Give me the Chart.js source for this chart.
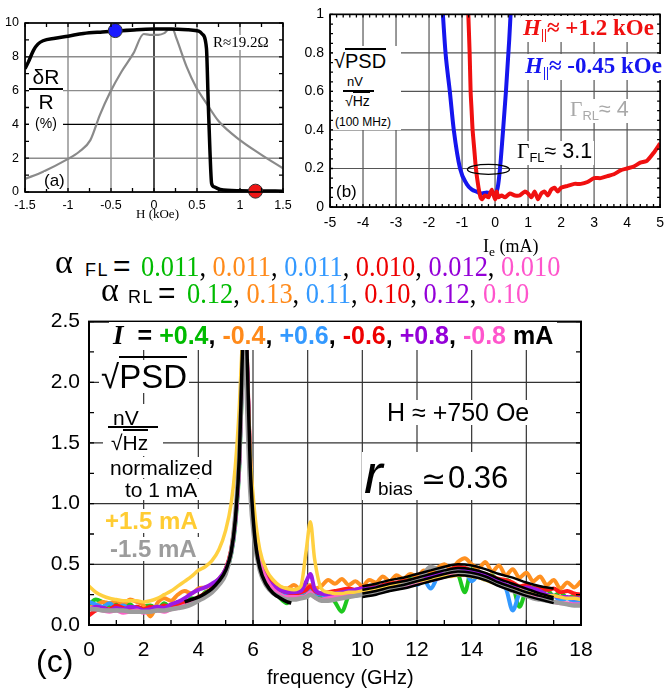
<!DOCTYPE html>
<html>
<head>
<meta charset="utf-8">
<script src="https://cdn.jsdelivr.net/npm/chart.js@4.4.1/dist/chart.umd.min.js"></script>
<style>
  html, body { margin: 0; background: #fff; }
  #page { position: relative; width: 672px; height: 692px; overflow: hidden; font-family: "Liberation Sans", Arial, sans-serif; color: #000; }
  canvas { position: absolute; }
  .t { position: absolute; white-space: nowrap; line-height: 1; }
  .w { background: #fff; }
  .ser { font-family: "Liberation Serif", "Times New Roman", serif; }
  .sb { font-size: 0.6em; vertical-align: -0.3em; }
  .ov { border-top: 2px solid #000; }
  .row { display: flex; align-items: baseline; }
  .num { font-family: "Liberation Serif", serif; font-size: 30px; transform: scaleX(0.88); transform-origin: left top; }
</style>
</head>
<body>
<div id="page">
  <canvas id="cA" width="300" height="225" style="left:0;top:0"></canvas>
  <canvas id="cB" width="372" height="250" style="left:300px;top:0"></canvas>
  <canvas id="cC" width="672" height="392" style="left:0;top:300px"></canvas>

  <!-- (a) labels -->
  <div class="t w" style="left:29px;top:66px;width:34px;height:64px;text-align:center">
    <div style="font-size:21px">δR</div>
    <div style="border-top:2px solid #000;margin:1px 0 1px"></div>
    <div style="font-size:21px">R</div>
    <div style="font-size:14px;margin-top:4px">(%)</div>
  </div>
  <div class="t w ser" style="left:211px;top:35px;font-size:15px;padding:0 2px">R≈19.2Ω</div>
  <div class="t w" style="left:44px;top:172px;font-size:17px">(a)</div>
  <div class="t ser" style="left:136px;top:207px;font-size:13px">H (kOe)</div>

  <!-- (b) labels -->
  <div class="t w" style="left:333px;top:46px;width:68px;height:84px">
    <div style="position:absolute;left:1px;top:5px;font-size:20px">√<span class="ov">PSD</span></div>
    <div style="position:absolute;left:14px;top:29px;font-size:13px">nV</div>
    <div style="position:absolute;left:10px;top:44px;width:31px;border-top:2px solid #000"></div>
    <div style="position:absolute;left:12px;top:48px;font-size:14px">√<span class="ov" style="border-top-width:1.5px">Hz</span></div>
    <div style="position:absolute;left:2px;top:70px;font-size:12px">(100 MHz)</div>
  </div>
  <div class="t w ser" style="left:521px;top:16px;font-size:23px;font-weight:bold;color:#f01010;padding:0 2px"><i>H</i><span class="sb">||</span>≈ +1.2 kOe</div>
  <div class="t w ser" style="left:523px;top:54px;font-size:23px;font-weight:bold;color:#1515f0;padding:0 2px"><i>H</i><span class="sb">||</span>≈ -0.45 kOe</div>
  <div class="t w" style="left:568px;top:99px;font-size:21.5px;color:#a8a8a8;padding:0 2px"><span class="ser">Γ</span><span class="sb">RL</span>≈ 4</div>
  <div class="t w" style="left:515px;top:141px;font-size:21.5px;padding:0 2px"><span class="ser">Γ</span><span class="sb">FL</span>≈ 3.1</div>
  <div class="t w" style="left:336px;top:183px;font-size:17px">(b)</div>
  <div class="t ser" style="left:483px;top:237px;font-size:18px">I<span class="sb" style="font-size:0.75em">e</span> (mA)</div>

  <!-- (c) damping constants -->
  <div class="t ser" style="left:55px;top:245px;font-size:34px">α</div>
  <div class="t" style="left:85px;top:261px;font-size:18px;letter-spacing:1.5px">FL</div>
  <div class="t" style="left:113px;top:251px;font-size:30px">=</div>
  <div class="t num" style="left:141px;top:251px"><span style="color:#00bb00">0.011</span>, <span style="color:#ff8a1a">0.011</span>, <span style="color:#3399ff">0.011</span>, <span style="color:#ee0000">0.010</span>, <span style="color:#9400d8">0.012</span>, <span style="color:#ff55cc">0.010</span></div>
  <div class="t ser" style="left:101px;top:273px;font-size:34px">α</div>
  <div class="t" style="left:128px;top:288px;font-size:18px;letter-spacing:1.5px">RL</div>
  <div class="t" style="left:158px;top:278px;font-size:30px">=</div>
  <div class="t num" style="left:187px;top:278px"><span style="color:#00bb00">0.12</span>, <span style="color:#ff8a1a">0.13</span>, <span style="color:#3399ff">0.11</span>, <span style="color:#ee0000">0.10</span>, <span style="color:#9400d8">0.12</span>, <span style="color:#ff55cc">0.10</span></div>

  <!-- (c) labels inside the plot -->
  <div class="t w row" style="left:109px;top:322px;height:28px;padding:0 4px;font-weight:bold;font-size:25px">
    <span class="ser" style="font-size:27px;font-style:italic">I</span><span style="margin:0 7px 0 14px">=</span><span style="color:#00bb00">+0.4</span>,&nbsp;<span style="color:#ff8a1a">-0.4</span>,&nbsp;<span style="color:#3399ff">+0.6</span>,&nbsp;<span style="color:#ee0000">-0.6</span>,&nbsp;<span style="color:#9400d8">+0.8</span>,&nbsp;<span style="color:#ff55cc">-0.8</span>&nbsp;mA
  </div>
  <div class="t w" style="left:99px;top:360px;font-size:33px;padding:0 2px">√<span class="ov">PSD</span></div>
  <div class="t w" style="left:103px;top:404px;width:60px;height:52px">
    <div style="position:absolute;left:10px;top:3px;font-size:21px">nV</div>
    <div style="position:absolute;left:5px;top:22px;width:50px;border-top:2px solid #000"></div>
    <div style="position:absolute;left:8px;top:28px;font-size:21px">√<span class="ov">Hz</span></div>
  </div>
  <div class="t w" style="left:108px;top:457px;font-size:21px;padding:0 2px">normalized</div>
  <div class="t w" style="left:123px;top:479px;font-size:21px;padding:0 2px">to 1 mA</div>
  <div class="t w" style="left:103px;top:509px;font-size:24px;font-weight:bold;color:#ffcc33;padding:0 2px">+1.5 mA</div>
  <div class="t w" style="left:108px;top:537px;font-size:24px;font-weight:bold;color:#9c9c9c;padding:0 2px">-1.5 mA</div>
  <div class="t w" style="left:384px;top:400px;font-size:25px;padding:0 3px">H ≈ +750 Oe</div>
  <div class="t w" style="left:362px;top:452px;width:152px;height:48px">
    <div class="t" style="left:2px;top:-6px;font-size:56px;font-style:italic">r</div>
    <div class="t" style="left:16px;top:27px;font-size:19px">bias</div>
    <div class="t" style="left:59px;top:12px;font-size:30px;font-family:'DejaVu Sans',sans-serif">≃</div>
    <div class="t" style="left:86px;top:10px;font-size:31px">0.36</div>
  </div>
  <div class="t" style="left:267px;top:667px;font-size:20px">frequency (GHz)</div>
  <div class="t" style="left:36px;top:645px;font-size:32px">(c)</div>
</div>

<script>
// ---- (a) magnetoresistance vs field ----
const loopField = [-1.5, -1.46, -1.4, -1.35, -1.29, -1.15, -1.0, -0.82, -0.6, -0.45, -0.2, 0, 0.2, 0.4, 0.52, 0.56, 0.61, 0.63, 0.65, 0.67, 0.7, 0.77, 1.0, 1.25, 1.5];
const loopMR = [7.3, 7.7, 8.4, 8.75, 8.95, 9.1, 9.22, 9.38, 9.47, 9.52, 9.6, 9.64, 9.65, 9.6, 9.52, 9.35, 8.5, 5.4, 2.5, 0.5, 0.3, 0.15, 0.07, 0.06, 0.05];
const minorField = [-1.5, -1.29, -1.02, -0.87, -0.74, -0.63, -0.51, -0.38, -0.24, -0.12, -0.05, 0.05, 0.12, 0.17, 0.22, 0.26, 0.38, 0.49, 0.61, 0.75, 1.0, 1.25, 1.5];
const minorMR = [0.77, 1.2, 1.9, 2.38, 3.07, 4.55, 5.9, 7.1, 8.2, 9.35, 9.3, 9.3, 9.4, 9.6, 9.6, 9.1, 7.4, 6.2, 5.25, 4.2, 3.07, 2.2, 1.4];
const dotField = [-0.45, 1.18];
const dotMR = [9.55, 0.05];
const dotColors = ['#1a1aff', '#ee1515'];

// ---- (b) 100 MHz noise vs bias current ----
const negCurrent = [-1.58, -1.5, -1.37, -1.25, -1.06, -0.86, -0.7, -0.56, -0.4, -0.25, -0.1, 0.0, 0.08, 0.15, 0.23, 0.33, 0.43, 0.47];
const negNoise = [1.0, 0.8, 0.6, 0.4, 0.2, 0.12, 0.09, 0.08, 0.07, 0.075, 0.07, 0.07, 0.1, 0.2, 0.37, 0.6, 0.87, 1.0];
const posCurrent = [-0.81, -0.77, -0.74, -0.71, -0.68, -0.63, -0.58, -0.5, -0.44, -0.4, -0.3, -0.2, -0.1, 0.0, 0.05, 0.1, 0.2, 0.3, 0.45, 0.6, 0.75, 0.9, 1.0, 1.1, 1.2, 1.3, 1.4, 1.5, 1.6, 1.7, 1.8, 1.9, 2.0, 2.2, 2.4, 2.6, 2.8, 3.0, 3.2, 3.4, 3.6, 3.8, 4.0, 4.2, 4.4, 4.6, 4.8, 5.0];
const posNoise = [1.0, 0.8, 0.6, 0.5, 0.4, 0.3, 0.2, 0.1, 0.05, 0.04, 0.06, 0.05, 0.09, 0.04, 0.08, 0.05, 0.06, 0.05, 0.07, 0.06, 0.06, 0.08, 0.07, 0.05, 0.08, 0.04, 0.07, 0.08, 0.06, 0.09, 0.1, 0.08, 0.1, 0.11, 0.12, 0.12, 0.13, 0.15, 0.15, 0.16, 0.17, 0.19, 0.2, 0.21, 0.23, 0.24, 0.28, 0.33];

// ---- (c) normalized noise spectra, H = +750 Oe ----
const freqGHz = [0, 0.25, 0.5, 0.75, 1, 1.25, 1.5, 1.75, 2, 2.25, 2.5, 2.75, 3, 3.25, 3.5, 3.75, 4, 4.25, 4.5, 4.75, 5,
  5.2, 5.35, 5.5, 5.6, 5.7, 5.8, 5.9, 6.05, 6.25,
  6.5, 6.75, 7, 7.25, 7.5, 7.75,
  7.95, 8.1, 8.25,
  8.5, 8.75, 9, 9.25, 9.5, 9.75, 10, 10.25, 10.5, 10.75, 11, 11.25, 11.5, 11.75, 12, 12.25, 12.5, 12.75, 13, 13.25, 13.5, 13.75, 14, 14.25, 14.5, 14.75, 15, 15.25, 15.5, 15.75, 16, 16.25, 16.5, 16.75, 17, 17.25, 17.5, 17.75, 18];
const psdP04 = [0.17, 0.21, 0.19, 0.16, 0.18, 0.15, 0.17, 0.12, 0.15, 0.16, 0.13, 0.18, 0.14, 0.19, 0.17, 0.22, 0.21, 0.27, 0.29, 0.35, 0.44,
  0.58, 0.82, 1.3, 2.0, 2.6, 1.95, 1.25, 0.76, 0.5,
  0.36, 0.3, 0.22, 0.18, 0.25, 0.23,
  0.27, 0.31, 0.25,
  0.23, 0.26, 0.19, 0.11, 0.24, 0.27, 0.31, 0.28, 0.33, 0.3, 0.36, 0.32, 0.34, 0.38, 0.36, 0.41, 0.38, 0.43, 0.4, 0.45, 0.42, 0.27, 0.46, 0.42, 0.38, 0.41, 0.35, 0.37, 0.33, 0.15, 0.29, 0.31, 0.26, 0.29, 0.24, 0.27, 0.22, 0.24, 0.2];
const psdM04 = [0.14, 0.16, 0.19, 0.18, 0.2, 0.17, 0.21, 0.19, 0.16, 0.07, 0.18, 0.22, 0.2, 0.25, 0.28, 0.26, 0.3, 0.31, 0.33, 0.38, 0.46,
  0.61, 0.86, 1.36, 2.1, 2.7, 2.0, 1.32, 0.84, 0.56,
  0.42, 0.35, 0.31, 0.3, 0.33, 0.29,
  0.31, 0.33, 0.3,
  0.32, 0.37, 0.34, 0.38, 0.33, 0.36, 0.32, 0.37, 0.35, 0.4, 0.36, 0.41, 0.38, 0.42, 0.4, 0.45, 0.43, 0.47, 0.5, 0.46, 0.52, 0.55, 0.5, 0.47, 0.52, 0.44, 0.49, 0.41, 0.46, 0.39, 0.43, 0.36, 0.4, 0.33, 0.37, 0.3, 0.35, 0.31, 0.36];
const psdP06 = [0.19, 0.17, 0.15, 0.18, 0.14, 0.16, 0.13, 0.15, 0.12, 0.14, 0.15, 0.13, 0.16, 0.18, 0.17, 0.2, 0.22, 0.25, 0.29, 0.35, 0.44,
  0.59, 0.84, 1.34, 2.05, 2.65, 1.98, 1.28, 0.79, 0.51,
  0.37, 0.3, 0.27, 0.25, 0.24, 0.26,
  0.28, 0.3, 0.26,
  0.25, 0.23, 0.24, 0.27, 0.26, 0.29, 0.27, 0.3, 0.28, 0.31, 0.3, 0.33, 0.32, 0.35, 0.33, 0.37, 0.3, 0.39, 0.41, 0.43, 0.42, 0.44, 0.36, 0.41, 0.37, 0.38, 0.33, 0.3, 0.12, 0.26, 0.29, 0.25, 0.27, 0.22, 0.24, 0.2, 0.22, 0.19, 0.2];
const psdM06 = [0.08, 0.12, 0.14, 0.13, 0.16, 0.14, 0.12, 0.15, 0.13, 0.15, 0.14, 0.16, 0.15, 0.16, 0.19, 0.2, 0.23, 0.26, 0.3, 0.37, 0.46,
  0.62, 0.88, 1.38, 2.15, 2.75, 2.05, 1.33, 0.82, 0.53,
  0.39, 0.32, 0.29, 0.27, 0.26, 0.27,
  0.29, 0.32, 0.28,
  0.26, 0.27, 0.28, 0.29, 0.3, 0.29, 0.31, 0.32, 0.31, 0.33, 0.34, 0.35, 0.36, 0.37, 0.38, 0.4, 0.41, 0.43, 0.44, 0.46, 0.48, 0.47, 0.45, 0.43, 0.42, 0.4, 0.38, 0.37, 0.35, 0.32, 0.33, 0.3, 0.31, 0.29, 0.3, 0.27, 0.28, 0.26, 0.25];
const psdP08 = [0.13, 0.15, 0.14, 0.12, 0.14, 0.13, 0.15, 0.14, 0.12, 0.13, 0.15, 0.14, 0.17, 0.19, 0.22, 0.26, 0.29, 0.31, 0.34, 0.38, 0.46,
  0.6, 0.86, 1.36, 2.1, 2.7, 2.02, 1.3, 0.8, 0.52,
  0.38, 0.32, 0.29, 0.27, 0.27, 0.28,
  0.36, 0.42, 0.3,
  0.26, 0.25, 0.26, 0.27, 0.28, 0.29, 0.3, 0.3, 0.31, 0.32, 0.33, 0.34, 0.35, 0.36, 0.37, 0.39, 0.4, 0.41, 0.43, 0.44, 0.45, 0.45, 0.44, 0.43, 0.41, 0.39, 0.36, 0.33, 0.31, 0.3, 0.31, 0.3, 0.28, 0.25, 0.24, 0.23, 0.23, 0.22, 0.22];
const psdM08 = [0.14, 0.13, 0.12, 0.11, 0.12, 0.1, 0.11, 0.12, 0.1, 0.11, 0.12, 0.11, 0.13, 0.14, 0.16, 0.18, 0.21, 0.24, 0.28, 0.35, 0.44,
  0.6, 0.85, 1.35, 2.1, 2.7, 2.0, 1.3, 0.8, 0.52,
  0.37, 0.29, 0.25, 0.23, 0.23, 0.23,
  0.24, 0.27, 0.23,
  0.21, 0.22, 0.23, 0.24, 0.24, 0.25, 0.26, 0.27, 0.28, 0.29, 0.3, 0.31, 0.32, 0.33, 0.34, 0.36, 0.37, 0.38, 0.4, 0.41, 0.42, 0.42, 0.41, 0.4, 0.38, 0.36, 0.34, 0.32, 0.3, 0.28, 0.26, 0.25, 0.23, 0.21, 0.19, 0.18, 0.18, 0.17, 0.17];
const psdP15 = [0.32, 0.27, 0.24, 0.22, 0.21, 0.2, 0.2, 0.2, 0.19, 0.2, 0.22, 0.25, 0.28, 0.32, 0.36, 0.4, 0.45, 0.48, 0.53, 0.62, 0.78,
  1.0, 1.3, 1.8, 2.3, 2.6, 2.0, 1.4, 0.95, 0.62,
  0.45, 0.37, 0.32, 0.3, 0.29, 0.32,
  0.62, 0.85, 0.55,
  0.3, 0.27, 0.26, 0.26, 0.27, 0.27, 0.28, 0.29, 0.3, 0.31, 0.32, 0.33, 0.34, 0.35, 0.36, 0.37, 0.38, 0.39, 0.4, 0.4, 0.41, 0.41, 0.4, 0.39, 0.37, 0.35, 0.34, 0.32, 0.3, 0.29, 0.27, 0.26, 0.25, 0.24, 0.24, 0.23, 0.22, 0.22, 0.21];
const psdM15 = [0.13, 0.13, 0.12, 0.12, 0.12, 0.12, 0.11, 0.11, 0.11, 0.11, 0.12, 0.12, 0.13, 0.14, 0.15, 0.17, 0.2, 0.23, 0.27, 0.33, 0.42,
  0.6, 0.9, 1.4, 2.0, 2.3, 1.7, 1.1, 0.7, 0.45,
  0.32, 0.26, 0.23, 0.21, 0.21, 0.22,
  0.23, 0.25, 0.23,
  0.2, 0.2, 0.21, 0.22, 0.23, 0.24, 0.25, 0.26, 0.27, 0.28, 0.29, 0.31, 0.33, 0.35, 0.37, 0.42, 0.48, 0.46, 0.45, 0.44, 0.44, 0.43, 0.42, 0.4, 0.38, 0.36, 0.33, 0.31, 0.28, 0.26, 0.24, 0.22, 0.21, 0.2, 0.19, 0.18, 0.17, 0.16, 0.16];
const lowCurrentSeries = [psdP04, psdM04, psdP06, psdM06, psdP08, psdM08];
const lowCurrentColors = ['#1ec81e', '#ff9020', '#3399ff', '#ff1a1a', '#9a1ae6', '#ff5fc8'];

// fits: main (FL) resonance and the broad RL band
const peakFitFreq = [3.5, 3.75, 4.0, 4.25, 4.5, 4.75, 5.0, 5.2, 5.35, 5.5, 5.6, 5.7, 5.8, 5.9, 6.05, 6.25, 6.5, 6.75, 7.0, 7.25, 7.4];
const peakFitPSD = [0.19, 0.21, 0.23, 0.26, 0.3, 0.36, 0.45, 0.6, 0.86, 1.38, 2.15, 2.8, 2.1, 1.3, 0.76, 0.47, 0.33, 0.26, 0.22, 0.19, 0.18];
const bandFitFreq = [10, 10.5, 11, 11.5, 12, 12.5, 13, 13.5, 14, 14.5, 15, 15.5, 16, 16.5, 17];
const bandFits = [
  [0.32, 0.34, 0.37, 0.39, 0.42, 0.45, 0.48, 0.5, 0.49, 0.46, 0.42, 0.39, 0.35, 0.32, 0.3],
  [0.29, 0.31, 0.34, 0.36, 0.39, 0.42, 0.45, 0.47, 0.46, 0.43, 0.38, 0.34, 0.3, 0.26, 0.23],
  [0.26, 0.28, 0.31, 0.33, 0.36, 0.39, 0.42, 0.44, 0.43, 0.4, 0.35, 0.31, 0.27, 0.24, 0.21],
  [0.23, 0.25, 0.28, 0.3, 0.33, 0.36, 0.39, 0.41, 0.4, 0.37, 0.32, 0.28, 0.24, 0.21, 0.18]
];

const pts = (xs, ys) => xs.map((x, i) => ({ x, y: ys[i] }));
const plain = v => String(Math.round(v * 100) / 100);

Chart.defaults.font.family = '"Liberation Sans", Arial, sans-serif';
Chart.defaults.color = '#000';

// Grid under the datasets; inward minor ticks, optional ellipse and box frame over them.
function frame(cfg) {
  const steps = (s, step) => {
    const out = [];
    const n = Math.round((s.max - s.min) / step);
    for (let k = 0; k <= n; k++) out.push(s.min + k * step);
    return out;
  };
  return {
    id: 'frame',
    beforeDatasetsDraw(chart) {
      const { ctx, chartArea: a, scales: { x, y } } = chart;
      ctx.save();
      ctx.lineWidth = cfg.gridWidth;
      x.ticks.forEach(t => {
        const px = x.getPixelForValue(t.value);
        ctx.strokeStyle = t.value === cfg.darkX ? '#000' : cfg.gridColor;
        ctx.beginPath(); ctx.moveTo(px, a.top); ctx.lineTo(px, a.bottom); ctx.stroke();
      });
      y.ticks.forEach(t => {
        const py = y.getPixelForValue(t.value);
        ctx.strokeStyle = t.value === cfg.darkY ? '#000' : cfg.gridColor;
        ctx.beginPath(); ctx.moveTo(a.left, py); ctx.lineTo(a.right, py); ctx.stroke();
      });
      ctx.restore();
    },
    afterDatasetsDraw(chart) {
      const { ctx, chartArea: a, scales: { x, y } } = chart;
      ctx.save();
      ctx.strokeStyle = '#000';
      ctx.lineWidth = 1.3;
      ctx.beginPath();
      steps(x, cfg.xMinor).forEach(v => {
        const px = x.getPixelForValue(v);
        ctx.moveTo(px, a.bottom); ctx.lineTo(px, a.bottom - cfg.len);
        ctx.moveTo(px, a.top); ctx.lineTo(px, a.top + cfg.len);
      });
      steps(y, cfg.yMinor).forEach(v => {
        const py = y.getPixelForValue(v);
        ctx.moveTo(a.left, py); ctx.lineTo(a.left + cfg.len, py);
        ctx.moveTo(a.right, py); ctx.lineTo(a.right - cfg.len, py);
      });
      ctx.stroke();
      if (cfg.ellipse) {
        const e = cfg.ellipse;
        ctx.beginPath();
        ctx.lineWidth = 1.3;
        ctx.ellipse(x.getPixelForValue(e.x), y.getPixelForValue(e.y), e.rx, e.ry, 0, 0, Math.PI * 2);
        ctx.stroke();
      }
      ctx.lineWidth = cfg.border;
      ctx.strokeRect(a.left, a.top, a.right - a.left, a.bottom - a.top);
      ctx.restore();
    }
  };
}

const base = { responsive: false, animation: false, devicePixelRatio: 1, events: [] };
const noLegend = { legend: { display: false }, tooltip: { enabled: false } };

// (a) — datasets listed top-most first
new Chart(document.getElementById('cA'), {
  type: 'line',
  data: {
    datasets: [
      { data: pts(dotField, dotMR), showLine: false, pointRadius: 7, pointBackgroundColor: dotColors, pointBorderColor: '#333', pointBorderWidth: 1, clip: false },
      { data: pts(loopField, loopMR), borderColor: '#000', borderWidth: 3.5, pointRadius: 0, cubicInterpolationMode: 'monotone' },
      { data: pts(minorField, minorMR), borderColor: '#8a8a8a', borderWidth: 2.2, pointRadius: 0, cubicInterpolationMode: 'monotone' }
    ]
  },
  options: {
    ...base,
    layout: { padding: { left: 0, right: 17, top: 23, bottom: 0 } },
    scales: {
      x: { type: 'linear', min: -1.5, max: 1.5, ticks: { stepSize: 0.5, padding: 6, font: { size: 12.5 }, callback: plain },
        grid: { display: false, drawTicks: false }, border: { color: '#000' },
        afterFit: s => { s.height = 33; } },
      y: { min: 0, max: 10, ticks: { stepSize: 2, padding: 6, font: { size: 12.5 }, callback: plain },
        grid: { display: false, drawTicks: false }, border: { color: '#000' },
        afterFit: s => { s.width = 25; } }
    },
    plugins: noLegend
  },
  plugins: [frame({ gridColor: '#8c8c8c', gridWidth: 1.4, darkX: 0, darkY: 4, xMinor: 0.25, yMinor: 1, len: 4, border: 1.6 })]
});

// (b)
new Chart(document.getElementById('cB'), {
  type: 'line',
  data: {
    datasets: [
      { data: pts(posCurrent, posNoise), borderColor: '#f01010', borderWidth: 4, pointRadius: 0, tension: 0.2 },
      { data: pts(negCurrent, negNoise), borderColor: '#1515ee', borderWidth: 4, pointRadius: 0, cubicInterpolationMode: 'monotone' }
    ]
  },
  options: {
    ...base,
    layout: { padding: { left: 0, right: 4, top: 9, bottom: 0 } },
    scales: {
      x: { type: 'linear', min: -5, max: 5, ticks: { stepSize: 1, padding: 8, font: { size: 14 }, callback: plain },
        grid: { display: false, drawTicks: false }, border: { color: '#000' },
        afterFit: s => { s.height = 43; } },
      y: { min: 0, max: 1, ticks: { stepSize: 0.2, padding: 6, font: { size: 14 }, callback: plain },
        grid: { display: false, drawTicks: false }, border: { color: '#000' },
        afterFit: s => { s.width = 30; } }
    },
    plugins: noLegend
  },
  plugins: [frame({ gridColor: '#555', gridWidth: 1.2, xMinor: 0.2, yMinor: 0.05, len: 3, border: 1.6, ellipse: { x: -0.2, y: 0.195, rx: 21, ry: 5 } })]
});

// (c) — built bottom-to-top, then reversed so fits end up drawn last
const spectra = lowCurrentSeries.map((s, i) => ({
  data: pts(freqGHz, s), borderColor: lowCurrentColors[i], borderWidth: 4, pointRadius: 0, cubicInterpolationMode: 'monotone'
}));
spectra.push(
  { data: pts(freqGHz, psdP15), borderColor: '#ffd040', borderWidth: 3.5, pointRadius: 0, cubicInterpolationMode: 'monotone' },
  { data: pts(freqGHz, psdM15), borderColor: '#9c9c9c', borderWidth: 4.5, pointRadius: 0, cubicInterpolationMode: 'monotone' },
  { data: pts(peakFitFreq, peakFitPSD), borderColor: '#000', borderWidth: 3.5, pointRadius: 0, cubicInterpolationMode: 'monotone' }
);
bandFits.forEach(f => spectra.push({ data: pts(bandFitFreq, f), borderColor: '#000', borderWidth: 2.5, pointRadius: 0, cubicInterpolationMode: 'monotone' }));
spectra.reverse();

new Chart(document.getElementById('cC'), {
  type: 'line',
  data: { datasets: spectra },
  options: {
    ...base,
    layout: { padding: { left: 0, right: 91, top: 13, bottom: 0 } },
    scales: {
      x: { type: 'linear', min: 0, max: 18, ticks: { stepSize: 2, padding: 13, font: { size: 21 } },
        grid: { display: false, drawTicks: false }, border: { color: '#000', width: 1.5 },
        afterFit: s => { s.height = 67; } },
      y: { min: 0, max: 2.5, ticks: { stepSize: 0.5, padding: 9, font: { size: 21 }, callback: v => v.toFixed(1) },
        grid: { display: false, drawTicks: false }, border: { color: '#000', width: 1.5 },
        afterFit: s => { s.width = 89; } }
    },
    plugins: noLegend
  },
  plugins: [frame({ gridColor: '#333', gridWidth: 1.2, xMinor: 1, yMinor: 0.25, len: 5, border: 2 })]
});
</script>
</body>
</html>
